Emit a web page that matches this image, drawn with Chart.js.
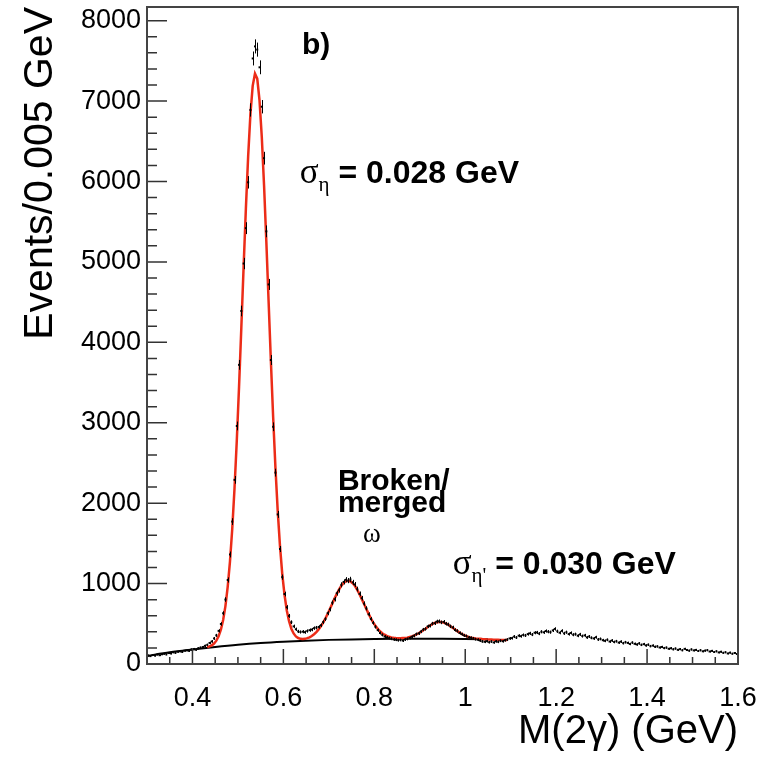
<!DOCTYPE html>
<html>
<head>
<meta charset="utf-8">
<script src="https://cdn.jsdelivr.net/npm/chart.js@4.4.1/dist/chart.umd.min.js"></script>
<style>
  html, body { margin: 0; padding: 0; background: #fff; }
  canvas { display: block; }
</style>
</head>
<body>
<canvas id="mass-chart" width="766" height="758"></canvas>
<script>
// M(2γ) histogram, 0.005 GeV bins from 0.3 to 1.6 GeV (10 bins per row)
const binLow = 0.3;
const binWidth = 0.005;
const counts = [
  105, 98, 112, 104, 118, 109, 121, 127, 119, 136,        // 0.30
  131, 146, 139, 152, 158, 149, 166, 171, 163, 180,       // 0.35
  186, 178, 195, 203, 211, 226, 238, 262, 281, 318,       // 0.40
  356, 412, 498, 631, 802, 1045, 1362, 1771, 2290, 2960,  // 0.45
  3720, 4390, 4980, 5420, 5990, 6890, 7530, 7680, 7640, 7420, // 0.50
  6930, 6290, 5380, 4720, 3780, 2950, 2380, 1860, 1430, 1080, // 0.55
  870, 705, 598, 520, 468, 432, 405, 398, 402, 396,       // 0.60
  410, 421, 428, 446, 452, 461, 482, 521, 559, 632,       // 0.65
  681, 762, 806, 880, 918, 985, 1021, 1048, 1037, 1052,   // 0.70
  1015, 988, 931, 872, 818, 751, 692, 618, 560, 512,      // 0.75
  462, 421, 386, 362, 341, 330, 322, 314, 305, 302,       // 0.80
  296, 299, 291, 304, 312, 324, 338, 351, 372, 381,       // 0.85
  404, 428, 436, 468, 476, 502, 507, 528, 531, 518,       // 0.90
  524, 501, 492, 468, 455, 424, 412, 386, 371, 356,       // 0.95
  348, 331, 326, 318, 309, 302, 292, 281, 276, 284,       // 1.00
  271, 279, 268, 282, 276, 289, 283, 296, 304, 318,       // 1.05
  322, 341, 329, 352, 346, 361, 355, 372, 381, 366,       // 1.10
  389, 392, 378, 401, 394, 410, 402, 396, 418, 436,       // 1.15
  407, 389, 412, 381, 395, 372, 386, 364, 371, 352,       // 1.20
  368, 347, 356, 331, 342, 326, 318, 333, 305, 312,       // 1.25
  296, 288, 301, 279, 292, 274, 283, 266, 278, 259,       // 1.30
  271, 262, 249, 266, 251, 243, 256, 238, 247, 231,       // 1.35
  240, 222, 229, 214, 219, 205, 212, 198, 204, 189,       // 1.40
  196, 183, 192, 176, 185, 171, 188, 174, 166, 181,       // 1.45
  169, 175, 162, 171, 158, 166, 172, 155, 163, 149,       // 1.50
  158, 144, 152, 139, 146, 131, 141, 128, 137, 124        // 1.55
];

// full fit (red), read at bin centres starting at fitStart
const fitStart = 0.4325;
const fitValues = [
  208, 218, 232, 255, 290, 345, 427, 547, 720, 958,
  1273, 1679, 2182, 2777, 3452, 4184, 4935, 5663, 6313, 6837,
  7189, 7342, 7279, 7008, 6553, 5950, 5252, 4508, 3767, 3069,
  2443, 1908, 1469, 1122, 859, 666, 531, 439, 380, 343,
  323, 313, 311, 313, 321, 332, 348, 370, 397, 430,
  469, 515, 568, 625, 686, 750, 813, 873, 927, 973,
  1008, 1028, 1035, 1026, 1004, 969, 922, 868, 807, 745,
  683, 623, 568, 518, 474, 438, 407, 382, 364, 349,
  338, 330, 326, 323, 321, 320, 322, 324, 328, 335,
  343, 354, 367, 382, 400, 419, 439, 460, 479, 496,
  510, 519, 523, 522, 515, 504, 489, 470, 450, 429,
  409, 390, 373, 358, 346, 336, 328, 323, 318, 315,
  313, 310, 308, 306, 305, 304, 303, 302, 301, 300,
  299, 298, 297
];

// background part of the fit (black)
const bgX = [0.30, 0.35, 0.40, 0.45, 0.50, 0.55, 0.60, 0.65, 0.70, 0.75, 0.80, 0.85, 0.90, 0.95, 1.00, 1.05];
const bgY = [100, 145, 180, 212, 240, 262, 278, 290, 300, 306, 310, 313, 314, 313, 311, 308];

const xTicks = [0.4, 0.6, 0.8, 1.0, 1.2, 1.4, 1.6];
const yTicks = [0, 1000, 2000, 3000, 4000, 5000, 6000, 7000, 8000];

const SANS = '"Liberation Sans", Arial, Helvetica, sans-serif';
const SERIF = '"Liberation Serif", "Times New Roman", serif';

// text on the plot, placed in data coordinates
const notes = [
  { x: 0.641, y: 7590, runs: [['b)', 'bold 30px ' + SANS, 0]] },
  { x: 0.636, y: 5980, runs: [['σ', '35px ' + SERIF, 0], ['η', '21px ' + SERIF, 8], [' = 0.028 GeV', 'bold 32px ' + SANS, 0]] },
  { x: 0.720, y: 2165, runs: [['Broken/', 'bold 30px ' + SANS, 0]] },
  { x: 0.720, y: 1895, runs: [['merged', 'bold 30px ' + SANS, 0]] },
  { x: 0.775, y: 1515, runs: [['ω', '27px ' + SERIF, 0]] },
  { x: 0.9725, y: 1116, runs: [['σ', '35px ' + SERIF, 0], ["η'", '21px ' + SERIF, 8], [' = 0.030 GeV', 'bold 32px ' + SANS, 0]] }
];

const rootStyle = {
  id: 'rootStyle',
  afterDatasetsDraw(chart) {
    const { ctx, chartArea: a, scales: { x, y } } = chart;
    ctx.save();

    // statistical error bars
    ctx.strokeStyle = '#000';
    ctx.lineWidth = 1;
    ctx.beginPath();
    counts.forEach((n, i) => {
      const px = Math.round(x.getPixelForValue(binLow + (i + 0.5) * binWidth)) + 0.5;
      const e = Math.sqrt(n);
      ctx.moveTo(px, y.getPixelForValue(n - e));
      ctx.lineTo(px, y.getPixelForValue(n + e));
    });
    ctx.stroke();

    // ticks pointing inward
    ctx.strokeStyle = '#333';
    ctx.lineWidth = 1.5;
    ctx.beginPath();
    for (let k = 7; k < 32; k++) {
      const v = k * 0.05;
      const major = xTicks.some(t => Math.abs(t - v) < 1e-6);
      const px = x.getPixelForValue(v);
      ctx.moveTo(px, a.bottom);
      ctx.lineTo(px, a.bottom - (major ? 15 : 7));
    }
    for (let k = 1; k <= 40; k++) {
      const v = k * 200;
      const major = v % 1000 === 0;
      const py = y.getPixelForValue(v);
      ctx.moveTo(a.left, py);
      ctx.lineTo(a.left + (major ? 20 : 10), py);
    }
    ctx.stroke();

    // frame
    ctx.strokeStyle = '#444';
    ctx.lineWidth = 2;
    ctx.strokeRect(a.left, a.top, a.right - a.left, a.bottom - a.top);

    // annotations
    ctx.fillStyle = '#000';
    ctx.textBaseline = 'alphabetic';
    ctx.textAlign = 'left';
    notes.forEach(n => {
      let px = x.getPixelForValue(n.x);
      const py = y.getPixelForValue(n.y);
      n.runs.forEach(([text, font, dy]) => {
        ctx.font = font;
        ctx.fillText(text, px, py + dy);
        px += ctx.measureText(text).width;
      });
    });
    ctx.restore();
  }
};

const tickFont = { family: SANS, size: 27 };

new Chart(document.getElementById('mass-chart'), {
  type: 'scatter',
  data: {
    datasets: [
      {
        label: 'Data',
        data: counts.map((n, i) => ({ x: binLow + (i + 0.5) * binWidth, y: n })),
        pointStyle: 'rect',
        pointRadius: 1.4,
        backgroundColor: '#000',
        borderWidth: 0,
        order: 0
      },
      {
        label: 'Fit',
        data: fitValues.map((v, i) => ({ x: fitStart + i * binWidth, y: v })),
        showLine: true,
        borderColor: 'rgb(236, 44, 24)',
        borderWidth: 2.5,
        pointRadius: 0,
        order: 1
      },
      {
        label: 'Background',
        data: bgY.map((v, i) => ({ x: bgX[i], y: v })),
        showLine: true,
        borderColor: '#000',
        borderWidth: 2,
        pointRadius: 0,
        cubicInterpolationMode: 'monotone',
        order: 2
      }
    ]
  },
  options: {
    responsive: false,
    animation: false,
    devicePixelRatio: 1,
    layout: { padding: { top: 7, right: 28, left: 0, bottom: 0 } },
    plugins: { legend: { display: false }, tooltip: { enabled: false } },
    scales: {
      x: {
        type: 'linear',
        min: 0.3,
        max: 1.6,
        afterBuildTicks: s => { s.ticks = xTicks.map(v => ({ value: v })); },
        afterFit: s => { s.height = 94; s.paddingLeft = 0; s.paddingRight = 0; },
        grid: { display: false, drawTicks: false },
        border: { display: false },
        ticks: {
          color: '#000',
          font: tickFont,
          padding: 18,
          maxRotation: 0,
          autoSkip: false,
          callback: v => String(Math.round(v * 10) / 10)
        },
        title: {
          display: true,
          text: 'M(2γ) (GeV)',
          align: 'end',
          color: '#000',
          font: { family: SANS, size: 40 },
          padding: { top: 0, bottom: 2 }
        }
      },
      y: {
        min: 0,
        max: 8170,
        afterBuildTicks: s => { s.ticks = yTicks.map(v => ({ value: v })); },
        afterFit: s => { s.width = 147; s.paddingTop = 0; s.paddingBottom = 0; },
        grid: { display: false, drawTicks: false },
        border: { display: false },
        ticks: { color: '#000', font: tickFont, padding: 6, autoSkip: false, callback: v => String(v) },
        title: {
          display: true,
          text: 'Events/0.005 GeV',
          align: 'end',
          color: '#000',
          font: { family: SANS, size: 41 },
          padding: { top: 16, bottom: 0 }
        }
      }
    }
  },
  plugins: [rootStyle]
});
</script>
</body>
</html>
